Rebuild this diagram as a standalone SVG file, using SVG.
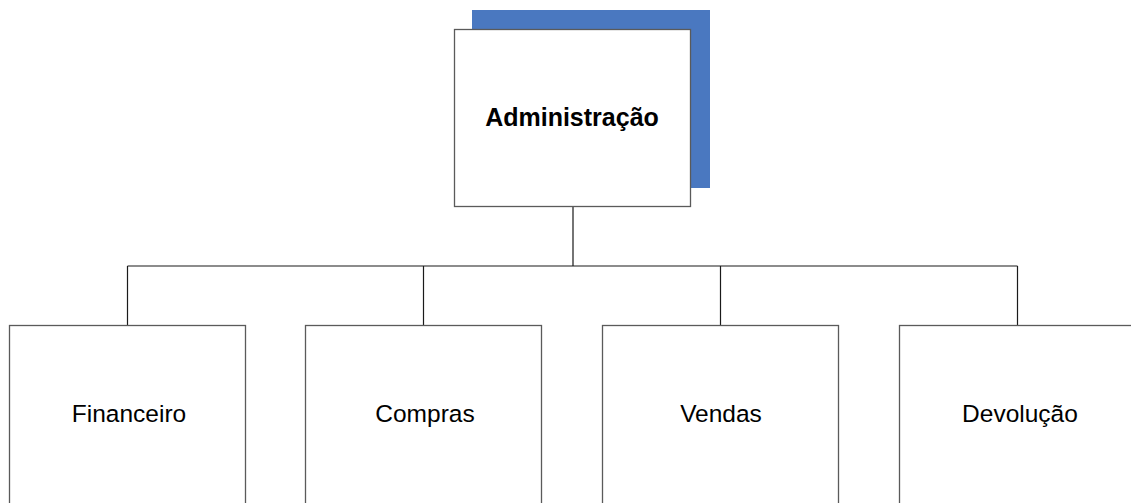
<svg xmlns="http://www.w3.org/2000/svg" width="1131" height="503" viewBox="0 0 1131 503">
<style>
.box{fill:#fff;stroke:#5a5a5a;stroke-width:1.3}
.lbl{font-family:"Liberation Sans",Arial,sans-serif;font-size:24.5px;fill:#000;text-anchor:middle}
.b{font-weight:bold;font-size:25px}
.con{stroke:#1a1a1a;stroke-width:1.2;fill:none}
</style>
<rect width="1131" height="503" fill="#fff"/>
<g id="connectors">
<path class="con" d="M573 207V266M127.5 266H1017.5M127.5 266V326M423.5 266V326M720.5 266V326M1017.5 266V326"/>
</g>
<g id="administracao">
<rect x="472" y="10" width="238" height="178" fill="#4a78c0"/>
<rect class="box" x="454.5" y="29.5" width="236" height="177"/>
<text class="lbl b" x="572" y="126">Administração</text>
</g>
<g id="financeiro">
<rect class="box" x="9.5" y="325.5" width="236" height="190"/>
<text class="lbl" x="129" y="422">Financeiro</text>
</g>
<g id="compras">
<rect class="box" x="305.5" y="325.5" width="236" height="190"/>
<text class="lbl" x="425" y="422">Compras</text>
</g>
<g id="vendas">
<rect class="box" x="602.5" y="325.5" width="236" height="190"/>
<text class="lbl" x="721" y="422">Vendas</text>
</g>
<g id="devolucao">
<rect class="box" x="899.5" y="325.5" width="236" height="190"/>
<text class="lbl" x="1020" y="422">Devolução</text>
</g>
</svg>
